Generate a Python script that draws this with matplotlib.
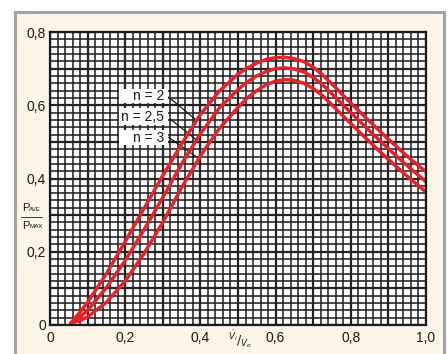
import numpy as np
import matplotlib
matplotlib.use("Agg")
import matplotlib.pyplot as plt
from matplotlib.patches import Rectangle

plt.rcParams["font.family"] = ["Liberation Sans Narrow", "Liberation Sans", "DejaVu Sans"]

# ── data ────────────────────────────────────────────────────
v_ratio = [0.055, 0.08, 0.10, 0.15, 0.20, 0.25, 0.30, 0.35, 0.40, 0.45, 0.50,
           0.525, 0.55, 0.575, 0.60, 0.625, 0.65, 0.675, 0.70, 0.725, 0.75,
           0.80, 0.85, 0.90, 0.95, 1.00]

p_n2 = [0.005, 0.035, 0.062, 0.140, 0.228, 0.318, 0.408, 0.494, 0.575, 0.638, 0.685,
        0.702, 0.715, 0.725, 0.730, 0.731, 0.727, 0.719, 0.704, 0.683, 0.658,
        0.606, 0.556, 0.507, 0.461, 0.418]
p_n25 = [0.005, 0.022, 0.040, 0.102, 0.176, 0.260, 0.348, 0.440, 0.522, 0.592, 0.643,
         0.664, 0.680, 0.692, 0.700, 0.702, 0.699, 0.691, 0.676, 0.656, 0.631,
         0.580, 0.530, 0.481, 0.435, 0.391]
p_n3 = [0.005, 0.012, 0.022, 0.062, 0.120, 0.195, 0.280, 0.375, 0.462, 0.536, 0.594,
        0.620, 0.640, 0.656, 0.666, 0.670, 0.668, 0.660, 0.646, 0.626, 0.601,
        0.550, 0.500, 0.452, 0.406, 0.363]

series_labels = ["n = 2", "n = 2,5", "n = 3"]
x_ticks = [0, 0.2, 0.4, 0.6, 0.8, 1.0]
x_tick_labels = ["0", "0,2", "0,4", "0,6", "0,8", "1,0"]
y_ticks = [0, 0.2, 0.4, 0.6, 0.8]
y_tick_labels = ["0", "0,2", "0,4", "0,6", "0,8"]

RED = "#E8202A"
CREAM = "#FDF5E5"

fig = plt.figure(figsize=(4.48, 3.54), dpi=100)
fig.patch.set_facecolor("white")

# cream panel with grey frame
panel = Rectangle((15 / 448, -0.05), 429 / 448, 1.05 - 12 / 354,
                  transform=fig.transFigure, facecolor=CREAM,
                  edgecolor="#A3A3A3", linewidth=2.2, zorder=-10)
fig.patches.append(panel)

ax = fig.add_axes([50 / 448, 1 - 325 / 354, 376 / 448, 293 / 354])
ax.set_zorder(1)
ax.set_facecolor("white")
ax.set_xlim(0, 1.0)
ax.set_ylim(0, 0.8)

# graph-paper grid
for gx in np.arange(0, 1.0001, 0.02):
    thick = abs(gx * 10 - round(gx * 10)) < 1e-6
    ax.axvline(gx, color="#222222", lw=1.6 if thick else 1.15, zorder=1)
for gy in np.arange(0, 0.8001, 0.02):
    thick = abs(gy * 10 - round(gy * 10)) < 1e-6
    ax.axhline(gy, color="#222222", lw=1.6 if thick else 1.15, zorder=1)

for s in ax.spines.values():
    s.set_linewidth(1.6)
    s.set_color("#1a1a1a")
    s.set_zorder(6)

ax.set_xticks(x_ticks)
ax.set_xticklabels(x_tick_labels)
ax.set_yticks(y_ticks)
ax.set_yticklabels(y_tick_labels)
ax.tick_params(length=0, labelsize=10, colors="#1a1a1a", pad=4)
ax.tick_params(axis="y", pad=3)

# curves
for vals in (p_n2, p_n25, p_n3):
    ax.plot(v_ratio, vals, color=RED, lw=2.5, solid_capstyle="round",
            solid_joinstyle="round", zorder=5)

# label boxes + leaders
box_rows = [(0.606, 0.644), (0.546, 0.592), (0.491, 0.532)]
leaders = [((0.316, 0.622), (0.386, 0.562)),
           ((0.320, 0.562), (0.390, 0.505)),
           ((0.316, 0.512), (0.391, 0.458))]
for lab, (y0, y1), (p0, p1) in zip(series_labels, box_rows, leaders):
    ax.add_patch(Rectangle((0.184, y0), 0.130, y1 - y0, facecolor="white",
                           edgecolor="none", zorder=3))
    ax.text(0.303, (y0 + y1) / 2, lab, ha="right", va="center", fontsize=10,
            color="#1a1a1a", zorder=4)
    ax.plot([p0[0], p1[0]], [p0[1], p1[1]], color="#1a1a1a", lw=0.9, zorder=4)

# y-axis label as a fraction P_AVE / P_MAX
fig.text(22 / 448, 1 - 208 / 354, "P", fontsize=8, ha="left", va="center", color="#1a1a1a")
fig.text(29 / 448, 1 - 209 / 354, "AVE", fontsize=4.5, ha="left", va="center", color="#1a1a1a")
fig.text(22 / 448, 1 - 226 / 354, "P", fontsize=8, ha="left", va="center", color="#1a1a1a")
fig.text(29 / 448, 1 - 227 / 354, "MAX", fontsize=4.5, ha="left", va="center", color="#1a1a1a")
fig.add_artist(plt.Line2D([21 / 448, 42 / 448], [1 - 217 / 354, 1 - 217 / 354],
                          transform=fig.transFigure, color="#1a1a1a", lw=0.6))

# x-axis label
fig.text(240 / 448, 1 - 340 / 354, r"$^{\dot{V}_i}/_{V_o}$", fontsize=9,
         ha="center", va="center", color="#1a1a1a")

fig.savefig("out.png", dpi=100, facecolor=fig.get_facecolor())
